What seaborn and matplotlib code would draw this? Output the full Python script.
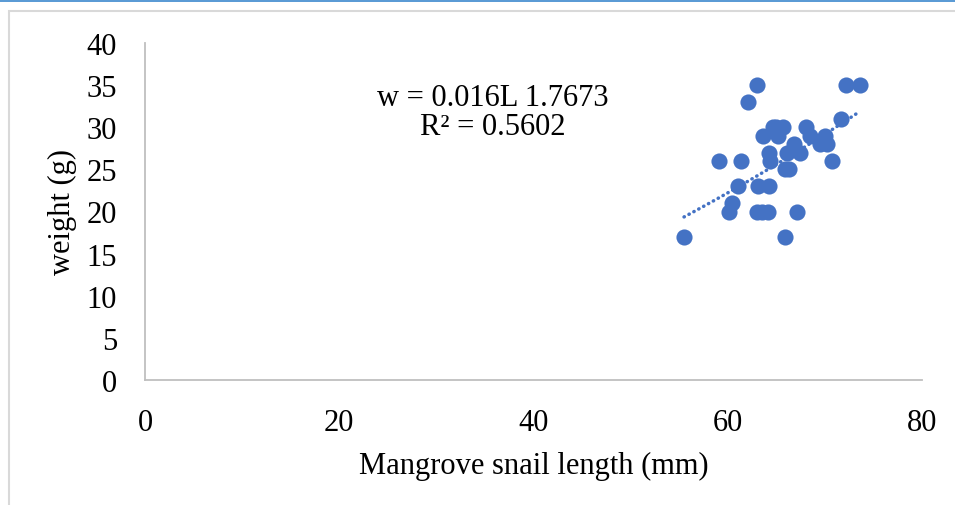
import numpy as np
import matplotlib.pyplot as plt
import seaborn as sns
from matplotlib.patches import Rectangle

# snail length (mm) and weight (g)
length_mm = [55.5, 59.1, 60.1, 60.4, 61.1, 61.4, 62.1, 63.0, 63.1, 63.0,
             63.5, 64.1, 64.2, 63.6, 64.2, 64.4, 64.7, 65.2, 65.7, 65.9,
             66.3, 65.9, 66.1, 66.8, 67.4, 67.1, 68.1, 68.5, 69.5, 70.0,
             70.2, 70.7, 71.7, 72.2, 73.6, 65.0]
weight_g = [17, 26, 20, 21, 23, 26, 33, 35, 23, 20,
            20, 20, 23, 29, 27, 26, 30, 29, 30, 25,
            25, 17, 27, 28, 27, 20, 30, 29, 28, 29,
            28, 26, 31, 35, 35, 30]

# power trendline shown on the chart: w = a * L^b
coef_a = 0.016
coef_b = 1.7673
r_squared = 0.5602

x_ticks = [0, 20, 40, 60, 80]
y_ticks = [0, 5, 10, 15, 20, 25, 30, 35, 40]

blue = "#4472c4"

sns.set_style("white")
plt.rcParams['font.family'] = ['Liberation Serif', 'DejaVu Serif']
plt.rcParams['text.color'] = 'black'
plt.rcParams['axes.labelcolor'] = 'black'
plt.rcParams['xtick.color'] = 'black'
plt.rcParams['ytick.color'] = 'black'

fig = plt.figure(figsize=(9.55, 5.06), dpi=100)
ax = fig.add_axes([145 / 955, 1 - 381 / 506, (922 - 145) / 955, (381 - 44) / 506])

# frame around the chart and the blue band on top
fig.patches.append(Rectangle((9 / 955, -0.1), 1.2, 1 - 12 / 506 + 0.1, transform=fig.transFigure,
                             fill=False, edgecolor="#d9d9d9", linewidth=1.5))
fig.patches.append(Rectangle((0, 1 - 3 / 506), 1, 3 / 506, transform=fig.transFigure,
                             color="#5b9bd5", linewidth=0))

sns.scatterplot(x=length_mm, y=weight_g, ax=ax, color=blue, s=135, linewidth=0, zorder=3)

trend_x = np.linspace(min(length_mm), max(length_mm), 100)
ax.plot(trend_x, coef_a * trend_x ** coef_b, color=blue, linewidth=2.5,
        linestyle=(0, (0.1, 1.5)), dash_capstyle="round", zorder=4)

ax.text(35.8, 31.8, "w = 0.016L 1.7673\nR² = %.4f" % r_squared, ha="center", va="center",
        fontsize=22, linespacing=1.0)

ax.set_xlim(0, 80)
ax.set_ylim(0, 40)
ax.set_xticks(x_ticks)
ax.set_yticks(y_ticks)
ax.tick_params(axis="x", labelsize=22, length=0, pad=20)
ax.tick_params(axis="y", labelsize=22, length=0, pad=20)
ax.set_xlabel("Mangrove snail length (mm)", fontsize=22, labelpad=10)
ax.set_ylabel("weight (g)", fontsize=22, labelpad=7)

for side in ["top", "right"]:
    ax.spines[side].set_visible(False)
for side in ["left", "bottom"]:
    ax.spines[side].set_color("#bfbfbf")
    ax.spines[side].set_linewidth(1.3)

plt.savefig("out.png", dpi=100)
